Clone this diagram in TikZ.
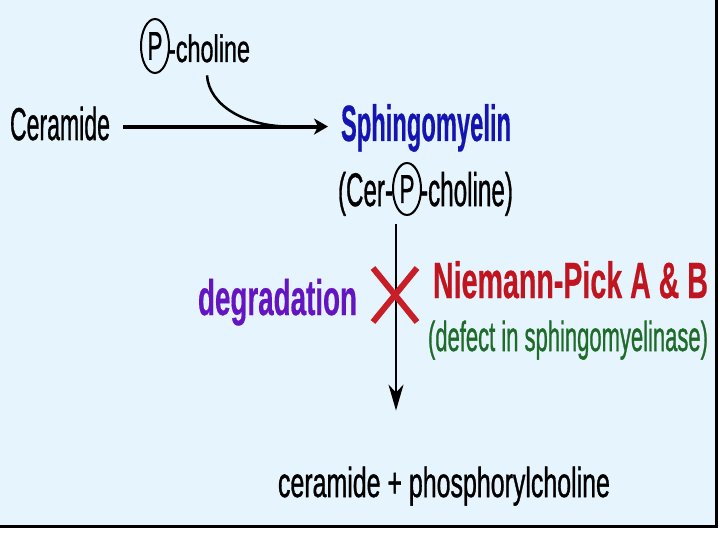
\documentclass[tikz,border=0pt]{standalone}
\usepackage{fontspec}
\setmainfont{Liberation Sans}[FakeBold=1.2]
\newfontfamily\heavyfont{Liberation Sans Bold}[FakeBold=0.6]
\usetikzlibrary{arrows.meta,calc}
\definecolor{bg}{HTML}{E6F4FD}
\definecolor{sblue}{HTML}{1414B0}
\definecolor{dpurple}{HTML}{6414C0}
\definecolor{nred}{HTML}{C0141E}
\definecolor{xred}{HTML}{C81E28}
\definecolor{dgreen}{HTML}{1F6B2A}
\newcommand{\sqtxt}[3]{\resizebox{#1pt}{\height}{\fontsize{#2}{#2}\selectfont #3}}
\begin{document}
\begin{tikzpicture}[x=1pt,y=-1pt,
  txt/.style={anchor=base west,inner sep=0pt,outer sep=0pt},
  ptxt/.style={inner sep=0pt,outer sep=0pt},
  pring/.style={line width=2pt},
  harrow/.style={line width=4pt,-{Stealth[length=14pt,width=16pt,inset=4pt]}},
  varrow/.style={line width=2pt,-{Stealth[length=26pt,width=15pt,inset=8pt]}},
  curvline/.style={line width=2.5pt},
  xline/.style={draw=xred,line width=6pt}]
\useasboundingbox (0,0) rectangle (720,540);
\fill[white] (0,0) rectangle (720,540);
\fill[bg] (0,0) rectangle (716,526);
\draw[black,line width=3pt] (716.5,0) -- (716.5,526.5) -- (0,526.5);

\node[txt] (cer) at (10,140) {\sqtxt{100}{46}{Ceramide}};
\node[ptxt] (p1) at (155,46) {\sqtxt{15}{40}{P}};
\draw[pring] (p1.center) ellipse [x radius=14pt, y radius=27pt];
\node[txt] (chol) at (168,62) {\sqtxt{82}{38}{-choline}};
\node[txt,text=sblue] (sph) at (341,141) {\sqtxt{170}{51}{\heavyfont Sphingomyelin}};
\node[txt] (cer2) at (338,206) {\sqtxt{55}{47}{(Cer-}};
\node[ptxt] (p2) at (407,189) {\sqtxt{15}{40}{P}};
\draw[pring] (p2.center) ellipse [x radius=14pt, y radius=26pt];
\node[txt] (chol2) at (420,206) {\sqtxt{93}{47}{-choline)}};
\node[txt,text=dpurple] (deg) at (198,315) {\sqtxt{159}{50}{\heavyfont degradation}};
\node[txt,text=nred] (np) at (433,298) {\sqtxt{275}{51}{\heavyfont Niemann-Pick A \& B}};
\node[txt,text=dgreen] (def) at (428,351) {\sqtxt{280}{42}{(defect in sphingomyelinase)}};
\node[txt] (prod) at (278,497) {\sqtxt{332}{42}{ceramide + phosphorylcholine}};

\draw[harrow] ($(cer.east)+(13,3)$) -- ($(sph.west |- cer.east)+(-13,3)$);
\coordinate (join) at ($(cer.east)+(180,3)$);
\draw[curvline] ($(chol.south west)+(39,13)$) .. controls +(2,30) and +(-45,0) .. (join);
\draw[varrow] ($(p2.center)+(-11,35)$) -- ($(prod.north west)+(118,-56)$);

\coordinate (xc) at (395,295);
\draw[xline] ($(xc)+(-22,-27)$) -- ($(xc)+(22,27)$);
\draw[xline] ($(xc)+(22,-27)$) -- ($(xc)+(-22,27)$);
\end{tikzpicture}
\end{document}
